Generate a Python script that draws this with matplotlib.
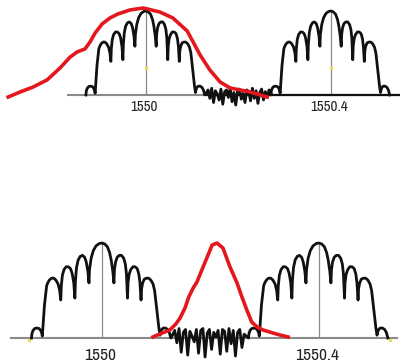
import numpy as np
import matplotlib
matplotlib.use("Agg")
import matplotlib.pyplot as plt
from matplotlib import font_manager

# comb spectrum of one WDM channel: offset from centre (pm) and relative power
comb_pm = [-130, -129, -127, -124, -120, -116, -113, -111, -110,
           -106, -102, -100, -97, -93, -89, -85, -81, -78, -76,
           -75, -73, -70, -66, -62, -58, -55, -52, -50,
           -49, -47, -44, -40, -36, -32, -29, -26, -24,
           -23, -20, -16, -11, -5, 0, 5, 10, 14, 17, 20, 22,
           23, 25, 28, 32, 36, 40, 43, 45, 47,
           48, 50, 53, 57, 61, 65, 68, 70, 72,
           73, 75, 78, 82, 86, 90, 94, 97,
           99, 102, 105, 107,
           108, 110, 113, 117, 121, 124, 126, 127]
comb_h = [0.0, 0.05, 0.08, 0.10, 0.105, 0.10, 0.08, 0.05, 0.02,
          0.35, 0.55, 0.58, 0.61, 0.63, 0.63, 0.61, 0.57, 0.50, 0.40,
          0.55, 0.66, 0.72, 0.75, 0.75, 0.73, 0.68, 0.58, 0.42,
          0.60, 0.74, 0.82, 0.86, 0.87, 0.85, 0.80, 0.70, 0.58,
          0.72, 0.84, 0.92, 0.97, 0.995, 1.0, 0.99, 0.96, 0.90, 0.82, 0.70, 0.58,
          0.72, 0.80, 0.85, 0.87, 0.87, 0.84, 0.78, 0.68, 0.42,
          0.58, 0.67, 0.72, 0.75, 0.75, 0.73, 0.67, 0.58, 0.40,
          0.52, 0.58, 0.62, 0.63, 0.63, 0.61, 0.57, 0.50,
          0.40, 0.25, 0.10, 0.03,
          0.06, 0.09, 0.105, 0.105, 0.09, 0.06, 0.02, 0.0]

# noise floor between the two channels
noise_nm = np.arange(0.130, 0.2705, 0.004)
noise_top = [0.02, 0.06, -0.04, 0.08, -0.09, 0.05, 0.01, -0.06, 0.07, -0.11,
             0.04, 0.06, -0.03, 0.08, -0.08, 0.03, -0.12, 0.05, 0.07, -0.05,
             0.02, -0.09, 0.06, 0.04, -0.07, 0.08, -0.04, 0.05, -0.10, 0.03,
             0.07, -0.06, 0.04, -0.03, 0.06, 0.02]
noise_bot = [0.03, 0.08, -0.05, 0.10, -0.15, 0.06, 0.09, -0.18, 0.07, 0.02,
             -0.04, 0.09, -0.16, 0.08, 0.10, -0.20, 0.05, 0.09, -0.12, 0.06,
             0.01, 0.08, -0.17, 0.09, 0.07, -0.14, 0.10, -0.06, 0.08, -0.19,
             0.06, 0.09, -0.10, 0.04, 0.02, 0.0]

# red filter passbands (offset from 1550 nm, relative)
red_top_nm = [-0.298, -0.272, -0.244, -0.214, -0.186, -0.164, -0.149, -0.132,
              -0.121, -0.110, -0.095, -0.078, -0.061, -0.035, -0.006, 0.030,
              0.058, 0.089, 0.117, 0.138, 0.160, 0.182, 0.225, 0.262]
red_top_h = [-0.024, 0.036, 0.095, 0.179, 0.321, 0.452, 0.512, 0.548,
             0.631, 0.738, 0.845, 0.917, 0.964, 1.012, 1.036, 0.988,
             0.917, 0.762, 0.476, 0.298, 0.155, 0.083, 0.036, -0.024]
red_bot_nm = [0.094, 0.111, 0.125, 0.136, 0.144, 0.153, 0.160, 0.168, 0.175,
              0.184, 0.194, 0.203, 0.212, 0.223, 0.236, 0.249, 0.258, 0.267,
              0.276, 0.286, 0.297, 0.315, 0.328, 0.343]
red_bot_h = [0.011, 0.053, 0.084, 0.147, 0.211, 0.316, 0.432, 0.526, 0.589,
             0.716, 0.853, 0.979, 1.0, 0.947, 0.747, 0.579, 0.432, 0.295,
             0.168, 0.116, 0.084, 0.053, 0.032, 0.011]

centers = [1550.0, 1550.4]
tick_labels = ["1550", "1550.4"]

comb_nm = np.array(comb_pm) / 1000.0
comb_h = np.array(comb_h)

# look for a narrow face (labels are in Arial Narrow style)
narrow = None
for f in font_manager.fontManager.ttflist:
    if ("Narrow" in f.name or "Condensed" in f.name) and f.weight in (400, "normal", "regular"):
        narrow = f.name
        break
if narrow:
    label_font = [narrow, "DejaVu Sans"]
    sizes = (10.8, 12.5)
else:
    label_font = ["Liberation Sans", "DejaVu Sans"]
    sizes = (8.3, 9.8)

BLACK = "#111111"
RED = "#e3171d"
GREY = "#8a8a8a"

fig = plt.figure(figsize=(4.04, 3.63), dpi=100)
H = 363.0
ax_top = fig.add_axes([0, 1 - 120 / H, 1, 120 / H])
ax_bot = fig.add_axes([0, 0, 1, 133 / H])

panels = [
    (ax_top, (1549.6843, 1550.5578), (-0.298, 1.131), noise_top, red_top_nm, red_top_h, sizes[0], -0.145),
    (ax_bot, (1549.812, 1550.5567), (-0.263, 1.137), noise_bot, red_bot_nm, red_bot_h, sizes[1], -0.185),
]

for ax, xl, yl, noise, rx, rh, fs, ty in panels:
    ax.set_xlim(*xl)
    ax.set_ylim(*yl)
    ax.axis("off")

    # baseline
    ax.hlines(0, 1549.83, 1550.545, color=GREY, lw=1.5, zorder=1)
    for c, lab in zip(centers, tick_labels):
        ax.vlines(c, 0, 1.0, color=GREY, lw=0.9, zorder=1)
        ax.text(c - 0.004, ty, lab, ha="center", va="center", fontsize=fs,
                family=label_font, color="#222222")

    x = np.concatenate([centers[0] + comb_nm, centers[0] + noise_nm, centers[1] + comb_nm])
    y = np.concatenate([comb_h, noise, comb_h])
    ax.plot(x, y, color=BLACK, lw=2.0, solid_joinstyle="round", zorder=3)

    ax.plot(1550 + np.array(rx), rh, color=RED, lw=2.6, solid_joinstyle="round", zorder=4)

# top panel: trace baseline continues in black on the right
ax_top.hlines(0, 1550.13, 1550.549, color=BLACK, lw=1.6, zorder=2)
ax_top.plot(centers, [0.32, 0.32], "s", color="#e8e060", ms=1.5, zorder=2)
ax_bot.plot([1549.865, 1550.53], [-0.02, -0.02], "s", color="#e8e060", ms=1.5, zorder=2)

fig.savefig("out.png", dpi=100)
